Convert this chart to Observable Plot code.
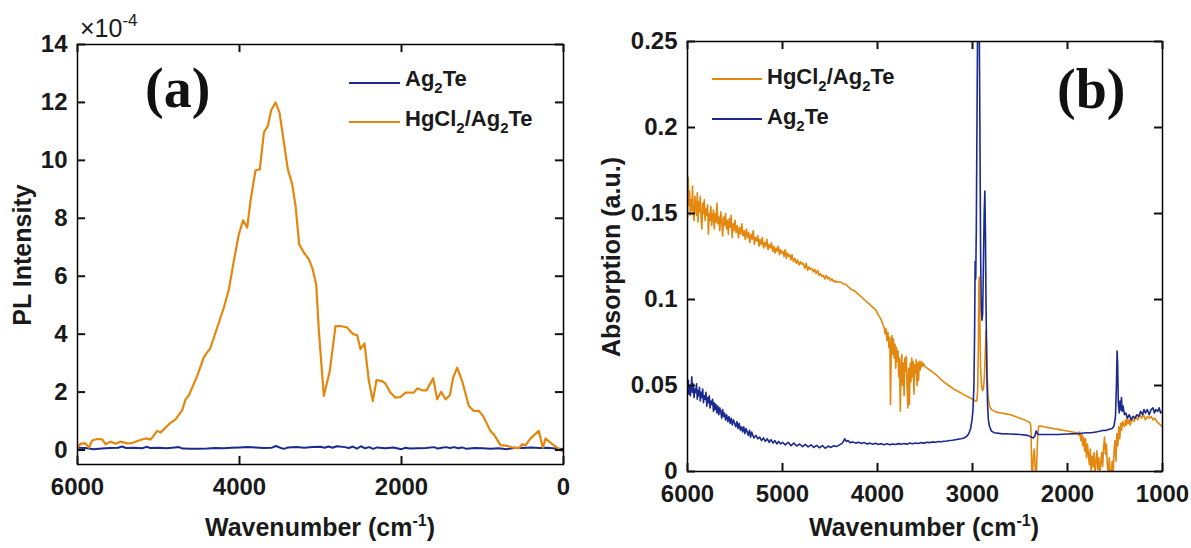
<!DOCTYPE html>
<html><head><meta charset="utf-8">
<script src="https://cdn.jsdelivr.net/npm/d3@7"></script>
<script src="https://cdn.jsdelivr.net/npm/@observablehq/plot@0.6"></script>
<style>
body{margin:0;background:#fff;}
#wrap{position:relative;width:1191px;height:548px;overflow:hidden;font-family:"Liberation Sans",Arial,sans-serif;color:#1a1a1a;}
#wrap svg{position:absolute;top:0;}
.abs{position:absolute;white-space:nowrap;line-height:1;}
.lab{font-size:25px;font-weight:bold;transform:translate(-50%,-50%);}
.rot{transform:translate(-50%,-50%) rotate(-90deg);}
.leg{font-size:22px;font-weight:bold;}
.leg sub{font-size:15px;vertical-align:-7px;line-height:0;}
.lab sup{font-size:16px;vertical-align:10px;line-height:0;}
.expo{font-size:25px;}
.expo sup{font-size:17px;vertical-align:11px;line-height:0;}
.sw{position:absolute;height:2px;}
.pl{font-family:"Liberation Serif","Times New Roman",serif;font-weight:bold;font-size:56px;color:#111;}
</style></head><body><div id="wrap"></div>
<script>
// ---------- Panel (a): PL intensity (x1e-4) vs wavenumber ----------
const xTicksA = [6000, 4000, 2000, 0];
const yTicksA = [0, 2, 4, 6, 8, 10, 12, 14];
const plAg = [[6000,0.08],[5900,0.07],[5800,0.03],[5700,0.05],[5600,0.07],[5500,0.08],[5450,0.12],[5400,0.07],[5300,0.08],[5200,0.06],[5150,0.11],[5100,0.07],[5000,0.08],[4900,0.06],[4800,0.09],[4750,0.10],[4700,0.05],[4600,0.04],[4500,0.04],[4400,0.05],[4300,0.07],[4200,0.06],[4100,0.08],[4000,0.09],[3900,0.10],[3800,0.09],[3700,0.07],[3600,0.08],[3550,0.14],[3500,0.08],[3450,0.04],[3400,0.09],[3300,0.10],[3200,0.08],[3100,0.10],[3000,0.11],[2950,0.08],[2900,0.12],[2850,0.08],[2800,0.13],[2700,0.10],[2650,0.07],[2600,0.12],[2550,0.05],[2500,0.13],[2450,0.06],[2400,0.10],[2350,0.04],[2300,0.09],[2200,0.06],[2100,0.09],[2000,0.03],[1950,0.08],[1900,0.05],[1800,0.06],[1700,0.07],[1600,0.10],[1550,0.05],[1500,0.08],[1450,0.10],[1400,0.07],[1350,0.10],[1300,0.06],[1250,0.09],[1200,0.04],[1100,0.07],[1000,0.06],[900,0.04],[800,0.06],[700,0.03],[600,0.08],[500,0.07],[400,0.09],[300,0.07],[200,0.08],[100,0.05],[0,0.03]];
const plHg = [[6000,0.08],[5963,0.22],[5901,0.23],[5860,0.08],[5819,0.33],[5757,0.38],[5695,0.37],[5654,0.20],[5592,0.29],[5531,0.22],[5469,0.29],[5387,0.23],[5325,0.24],[5243,0.33],[5160,0.40],[5098,0.36],[5016,0.66],[4975,0.60],[4852,0.94],[4790,1.06],[4708,1.37],[4666,1.75],[4625,1.89],[4522,2.56],[4440,3.21],[4358,3.53],[4275,4.23],[4193,4.92],[4131,5.55],[4070,6.53],[4008,7.45],[3955,7.93],[3905,7.68],[3864,8.60],[3802,9.66],[3749,9.69],[3699,10.96],[3650,11.19],[3609,11.73],[3555,12.0],[3506,11.65],[3461,10.79],[3403,9.69],[3350,9.18],[3308,8.43],[3263,7.10],[3206,6.82],[3144,6.59],[3103,6.30],[3053,5.72],[3020,4.11],[2959,1.87],[2885,2.73],[2815,4.28],[2753,4.28],[2671,4.23],[2597,4.0],[2547,3.96],[2506,3.48],[2457,3.68],[2403,2.38],[2354,1.69],[2309,2.41],[2239,2.38],[2197,2.29],[2136,1.98],[2074,1.81],[2012,1.83],[1951,1.98],[1848,1.98],[1806,2.13],[1745,2.06],[1691,2.06],[1609,2.48],[1560,1.75],[1510,2.01],[1457,1.75],[1403,1.89],[1362,2.50],[1313,2.84],[1251,2.38],[1169,1.52],[1107,1.35],[1045,1.35],[992,1.17],[901,0.66],[860,0.54],[778,0.17],[695,0.14],[613,0.08],[551,0.06],[510,0.20],[469,0.16],[407,0.40],[305,0.66],[255,0.08],[222,0.40],[160,0.25],[78,0.08],[0,-0.06]];

// ---------- Panel (b): absorption vs wavenumber ----------
const xTicksB = [6000, 5000, 4000, 3000, 2000, 1000];
const yTicksB = [0, 0.05, 0.1, 0.15, 0.2, 0.25];
const absHg = [[6000,0.148],[5993,0.171],[5986,0.155],[5978,0.163],[5970,0.149],[5962,0.158],[5955,0.152],[5947,0.166],[5940,0.150],[5931,0.146],[5922,0.160],[5914,0.154],[5905,0.149],[5897,0.162],[5890,0.145],[5882,0.157],[5874,0.151],[5865,0.160],[5857,0.147],[5849,0.141],[5840,0.156],[5832,0.150],[5823,0.158],[5815,0.146],[5806,0.153],[5797,0.149],[5788,0.155],[5780,0.138],[5771,0.150],[5762,0.146],[5754,0.154],[5745,0.143],[5736,0.148],[5727,0.152],[5718,0.141],[5709,0.150],[5700,0.145],[5690,0.156],[5680,0.144],[5670,0.148],[5660,0.140],[5650,0.151],[5640,0.146],[5630,0.137],[5620,0.148],[5610,0.143],[5600,0.150],[5590,0.141],[5580,0.146],[5570,0.138],[5560,0.147],[5550,0.142],[5540,0.149],[5530,0.136],[5520,0.144],[5510,0.140],[5500,0.146],[5488,0.139],[5476,0.143],[5464,0.136],[5452,0.142],[5440,0.138],[5428,0.144],[5416,0.137],[5404,0.140],[5392,0.135],[5380,0.141],[5368,0.136],[5356,0.139],[5344,0.133],[5332,0.138],[5320,0.135],[5308,0.140],[5296,0.132],[5284,0.136],[5272,0.134],[5260,0.137],[5248,0.131],[5236,0.135],[5224,0.132],[5212,0.136],[5200,0.130],[5188,0.133],[5176,0.131],[5164,0.135],[5152,0.129],[5140,0.132],[5128,0.130],[5116,0.133],[5104,0.128],[5092,0.131],[5080,0.127],[5068,0.130],[5056,0.128],[5044,0.131],[5032,0.126],[5020,0.129],[5008,0.127],[4996,0.128],[4984,0.125],[4972,0.129],[4960,0.124],[4948,0.127],[4936,0.125],[4924,0.126],[4912,0.123],[4900,0.126],[4885,0.122],[4870,0.124],[4855,0.121],[4840,0.123],[4825,0.120],[4810,0.122],[4795,0.1205],[4780,0.121],[4765,0.118],[4750,0.121],[4735,0.117],[4720,0.119],[4705,0.1175],[4690,0.118],[4675,0.116],[4660,0.1175],[4645,0.115],[4630,0.117],[4615,0.114],[4600,0.115],[4585,0.1135],[4570,0.114],[4555,0.112],[4540,0.114],[4525,0.112],[4510,0.113],[4495,0.111],[4480,0.112],[4465,0.1105],[4450,0.111],[4435,0.110],[4420,0.1105],[4400,0.110],[4380,0.110],[4360,0.109],[4340,0.109],[4320,0.108],[4300,0.107],[4280,0.106],[4260,0.1055],[4240,0.105],[4220,0.104],[4200,0.103],[4180,0.102],[4160,0.101],[4140,0.100],[4120,0.099],[4100,0.098],[4080,0.097],[4060,0.096],[4040,0.095],[4020,0.094],[4000,0.092],[3980,0.090],[3960,0.088],[3940,0.085],[3930,0.084],[3920,0.080],[3910,0.083],[3900,0.076],[3890,0.081],[3880,0.072],[3870,0.078],[3863,0.039],[3856,0.070],[3848,0.079],[3840,0.068],[3832,0.077],[3824,0.066],[3816,0.074],[3808,0.060],[3800,0.072],[3792,0.064],[3784,0.070],[3776,0.055],[3768,0.066],[3760,0.035],[3752,0.060],[3744,0.068],[3736,0.050],[3728,0.063],[3720,0.044],[3712,0.066],[3704,0.058],[3696,0.067],[3688,0.048],[3680,0.037],[3672,0.060],[3664,0.039],[3656,0.063],[3648,0.052],[3640,0.066],[3632,0.055],[3624,0.064],[3616,0.045],[3608,0.062],[3600,0.057],[3592,0.065],[3584,0.050],[3576,0.063],[3568,0.053],[3560,0.064],[3550,0.059],[3540,0.064],[3530,0.061],[3520,0.063],[3500,0.061],[3450,0.059],[3400,0.057],[3350,0.0545],[3300,0.052],[3250,0.050],[3200,0.048],[3150,0.0465],[3100,0.045],[3050,0.0435],[3000,0.042],[2970,0.041],[2955,0.041],[2945,0.048],[2938,0.075],[2932,0.110],[2928,0.113],[2922,0.085],[2915,0.060],[2905,0.050],[2895,0.047],[2885,0.048],[2875,0.055],[2865,0.070],[2858,0.082],[2852,0.075],[2845,0.055],[2835,0.043],[2820,0.038],[2800,0.036],[2750,0.0345],[2700,0.034],[2650,0.0335],[2600,0.033],[2550,0.032],[2500,0.031],[2450,0.030],[2420,0.029],[2395,0.0285],[2385,0.026],[2378,0.005],[2372,-0.003],[2365,0.002],[2358,0.010],[2350,0.013],[2343,0.006],[2336,-0.003],[2328,-0.002],[2320,0.012],[2312,0.022],[2305,0.026],[2290,0.0265],[2250,0.026],[2200,0.0255],[2150,0.025],[2100,0.0245],[2050,0.024],[2000,0.0235],[1950,0.023],[1900,0.0225],[1890,0.022],[1880,0.021],[1870,0.023],[1860,0.018],[1850,0.022],[1840,0.015],[1830,0.020],[1820,0.012],[1810,0.019],[1800,0.008],[1790,0.016],[1780,0.010],[1770,0.004],[1760,0.013],[1750,-0.002],[1740,0.009],[1730,0.003],[1720,0.011],[1710,-0.002],[1700,0.006],[1690,0.012],[1680,0.001],[1670,0.008],[1660,-0.002],[1650,0.005],[1640,0.011],[1630,0.003],[1620,0.014],[1610,0.020],[1600,0.010],[1590,0.016],[1580,0.003],[1570,-0.002],[1560,0.008],[1550,-0.003],[1540,-0.002],[1530,0.006],[1520,-0.002],[1510,0.012],[1500,0.018],[1490,0.006],[1480,0.022],[1470,0.015],[1460,0.026],[1450,0.019],[1440,0.028],[1430,0.024],[1420,0.029],[1400,0.026],[1390,0.030],[1380,0.027],[1370,0.031],[1360,0.028],[1350,0.030],[1340,0.027],[1320,0.031],[1300,0.029],[1280,0.032],[1260,0.030],[1240,0.033],[1220,0.031],[1200,0.033],[1180,0.030],[1160,0.032],[1140,0.031],[1120,0.032],[1100,0.030],[1080,0.031],[1060,0.029],[1040,0.028],[1020,0.027],[1000,0.026]];
const absAg = [[6000,0.047],[5992,0.053],[5985,0.045],[5977,0.050],[5970,0.044],[5962,0.049],[5955,0.055],[5947,0.046],[5940,0.051],[5931,0.043],[5922,0.048],[5914,0.046],[5905,0.051],[5897,0.042],[5890,0.047],[5882,0.044],[5874,0.049],[5865,0.041],[5857,0.046],[5849,0.043],[5840,0.048],[5832,0.040],[5823,0.044],[5815,0.042],[5806,0.046],[5797,0.038],[5788,0.043],[5780,0.040],[5771,0.044],[5762,0.037],[5754,0.041],[5745,0.039],[5736,0.042],[5727,0.035],[5718,0.040],[5709,0.036],[5700,0.039],[5690,0.034],[5680,0.038],[5670,0.033],[5660,0.037],[5650,0.035],[5640,0.031],[5630,0.036],[5620,0.032],[5610,0.034],[5600,0.030],[5588,0.033],[5576,0.029],[5564,0.032],[5552,0.028],[5540,0.031],[5528,0.027],[5516,0.030],[5504,0.028],[5492,0.026],[5480,0.029],[5468,0.025],[5456,0.028],[5444,0.024],[5432,0.026],[5420,0.023],[5408,0.026],[5396,0.022],[5384,0.025],[5372,0.023],[5360,0.021],[5348,0.024],[5336,0.020],[5324,0.023],[5312,0.021],[5300,0.0195],[5280,0.021],[5260,0.019],[5240,0.020],[5220,0.018],[5200,0.0195],[5180,0.0175],[5160,0.019],[5140,0.017],[5120,0.0185],[5100,0.0165],[5080,0.018],[5060,0.016],[5040,0.0175],[5020,0.016],[5000,0.017],[4970,0.0155],[4940,0.017],[4910,0.015],[4880,0.0165],[4850,0.0148],[4820,0.016],[4790,0.0145],[4760,0.0158],[4730,0.0143],[4700,0.0155],[4670,0.0140],[4640,0.0152],[4610,0.0138],[4580,0.0150],[4550,0.0135],[4520,0.0148],[4490,0.0140],[4460,0.0150],[4430,0.0145],[4400,0.0155],[4370,0.0165],[4345,0.019],[4330,0.0175],[4310,0.018],[4290,0.0168],[4260,0.0172],[4230,0.0165],[4200,0.017],[4170,0.0163],[4140,0.0168],[4110,0.016],[4080,0.0165],[4050,0.0158],[4020,0.0164],[3990,0.0157],[3960,0.0162],[3930,0.0156],[3900,0.0161],[3870,0.0155],[3840,0.016],[3810,0.0157],[3780,0.0162],[3750,0.0158],[3720,0.0163],[3690,0.0159],[3660,0.0165],[3630,0.0161],[3600,0.0166],[3570,0.0163],[3540,0.0168],[3510,0.0165],[3480,0.017],[3450,0.0168],[3420,0.0172],[3390,0.017],[3360,0.0174],[3330,0.0173],[3300,0.0176],[3270,0.0177],[3240,0.018],[3210,0.0182],[3180,0.0185],[3150,0.0188],[3120,0.019],[3090,0.0195],[3060,0.0205],[3040,0.022],[3020,0.025],[3005,0.030],[2995,0.036],[2985,0.050],[2978,0.080],[2972,0.122],[2966,0.112],[2960,0.140],[2952,0.210],[2945,0.270],[2938,0.300],[2930,0.270],[2922,0.200],[2915,0.130],[2908,0.095],[2900,0.088],[2893,0.092],[2885,0.120],[2877,0.150],[2870,0.163],[2864,0.140],[2857,0.095],[2850,0.060],[2842,0.040],[2833,0.030],[2820,0.026],[2800,0.0235],[2770,0.0225],[2700,0.022],[2600,0.0218],[2500,0.0215],[2420,0.021],[2380,0.020],[2360,0.0195],[2345,0.0205],[2330,0.0235],[2318,0.022],[2300,0.0215],[2200,0.0215],[2100,0.0215],[2000,0.0218],[1900,0.022],[1850,0.0222],[1800,0.0225],[1750,0.0225],[1700,0.023],[1650,0.0235],[1620,0.024],[1600,0.0238],[1560,0.0245],[1530,0.025],[1510,0.0265],[1495,0.032],[1485,0.050],[1478,0.070],[1472,0.062],[1465,0.040],[1455,0.034],[1447,0.041],[1440,0.036],[1432,0.043],[1425,0.035],[1415,0.038],[1400,0.033],[1385,0.034],[1370,0.031],[1350,0.033],[1330,0.030],[1310,0.032],[1290,0.031],[1270,0.033],[1250,0.032],[1230,0.035],[1210,0.033],[1195,0.036],[1180,0.034],[1160,0.036],[1140,0.033],[1120,0.036],[1100,0.037],[1085,0.034],[1070,0.036],[1050,0.035],[1035,0.037],[1020,0.034],[1000,0.035]];

const ORANGE = "#e3870e", BLUE = "#1b2a8e";
const style = {fontFamily: "'Liberation Sans', Arial, sans-serif", fontSize: "24px", fontWeight: "bold", color: "#1a1a1a", background: "transparent", overflow: "visible"};
// MATLAB-style box: labels outside, short ticks pointing inward on all four sides
function boxAxes(xt, yt, yFmt, yLo, yHi, xLo, xHi) {
  const s = {stroke: "#111", strokeWidth: 2};
  return [
    Plot.axisX(xt, {anchor: "bottom", tickSize: 0, tickPadding: 13, label: null, tickFormat: d => String(d)}),
    Plot.axisY(yt, {anchor: "left", tickSize: 0, tickPadding: 10, tickFormat: yFmt, label: null}),
    Plot.ruleX(xt, {x: d => d, y1: yLo[0], y2: yLo[1], ...s}),
    Plot.ruleX(xt, {x: d => d, y1: yHi[0], y2: yHi[1], ...s}),
    Plot.ruleY(yt, {y: d => d, x1: xLo[0], x2: xLo[1], ...s}),
    Plot.ruleY(yt, {y: d => d, x1: xHi[0], x2: xHi[1], ...s})
  ];
}
const chartA = Plot.plot({
  width: 595, height: 548, marginLeft: 77, marginRight: 32, marginTop: 44, marginBottom: 84,
  x: {domain: [6000, 0]}, y: {domain: [-0.5, 14]}, style,
  marks: [
    Plot.line(plAg, {x: d => d[0], y: d => d[1], stroke: BLUE, strokeWidth: 2, clip: true}),
    Plot.line(plHg, {x: d => d[0], y: d => d[1], stroke: ORANGE, strokeWidth: 2.2, clip: true}),
    Plot.frame({stroke: "black", strokeWidth: 1.5}),
    // inward ticks of about 8 px, given as spans of each scale
    ...boxAxes(xTicksA, yTicksA, d => String(d), [-0.5, -0.22], [14, 13.72], [6000, 5900], [0, 100])
  ]
});
const chartB = Plot.plot({
  width: 596, height: 548, marginLeft: 92, marginRight: 29, marginTop: 41, marginBottom: 77,
  x: {domain: [6000, 1000]}, y: {domain: [0, 0.25]}, style,
  marks: [
    Plot.line(absHg, {x: d => d[0], y: d => d[1], stroke: ORANGE, strokeWidth: 1.6, clip: true}),
    Plot.line(absAg, {x: d => d[0], y: d => d[1], stroke: BLUE, strokeWidth: 1.6, clip: true}),
    Plot.frame({stroke: "black", strokeWidth: 1.5}),
    ...boxAxes(xTicksB, yTicksB, d => String(d), [0, 0.0047], [0.25, 0.2453], [6000, 5916], [1000, 1084])
  ]
});
const wrap = document.getElementById("wrap");
chartA.style.left = "0px";
chartB.style.left = "595px";
wrap.appendChild(chartA);
wrap.appendChild(chartB);

function add(html, cls, css) {
  const d = document.createElement("div");
  d.className = "abs " + cls;
  d.innerHTML = html;
  Object.assign(d.style, css);
  wrap.appendChild(d);
}
function swatch(color, x1, x2, y) {
  const d = document.createElement("div");
  d.className = "sw";
  Object.assign(d.style, {left: x1 + "px", width: (x2 - x1) + "px", top: (y - 1) + "px", background: color});
  wrap.appendChild(d);
}
// axis labels
add("PL Intensity", "lab rot", {left: "22px", top: "255px"});
add("Wavenumber (cm<sup>-1</sup>)", "lab", {left: "320px", top: "527px"});
add("Absorption (a.u.)", "lab rot", {left: "611px", top: "257px"});
add("Wavenumber (cm<sup>-1</sup>)", "lab", {left: "924px", top: "527px"});
// exponent of panel (a) y axis
add("&times;10<sup>-4</sup>", "expo", {left: "80px", top: "16px"});
// panel labels
add("(a)", "pl", {left: "145px", top: "60px"});
add("(b)", "pl", {left: "1057px", top: "61px"});
// legends
swatch(BLUE, 349, 400, 83);
add("Ag<sub>2</sub>Te", "leg", {left: "405px", top: "68px"});
swatch(ORANGE, 349, 400, 122);
add("HgCl<sub>2</sub>/Ag<sub>2</sub>Te", "leg", {left: "405px", top: "108px"});
swatch(ORANGE, 712, 762, 79);
add("HgCl<sub>2</sub>/Ag<sub>2</sub>Te", "leg", {left: "767px", top: "66px"});
swatch(BLUE, 712, 762, 119);
add("Ag<sub>2</sub>Te", "leg", {left: "767px", top: "106px"});
</script>
</body></html>
